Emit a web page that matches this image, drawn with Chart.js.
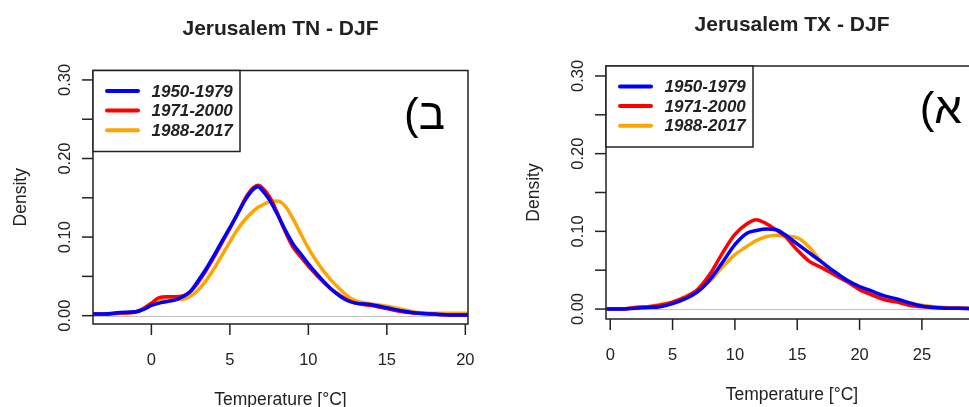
<!DOCTYPE html>
<html>
<head>
<meta charset="utf-8">
<script src="https://cdn.jsdelivr.net/npm/chart.js@4.4.1/dist/chart.umd.min.js"></script>
<style>
  html, body { margin: 0; padding: 0; background: #fff; overflow: hidden; }
  body { width: 969px; height: 407px; position: relative; }
  canvas { position: absolute; top: 0; }
  #tn { left: 0; }
  #tx { left: 485px; }
</style>
</head>
<body>
<canvas id="tn" width="485" height="407"></canvas>
<canvas id="tx" width="515" height="407"></canvas>
<script>
const periods = ['1950-1979', '1971-2000', '1988-2017'];
const periodColors = ['#0000ff', '#ff0000', '#ffa500'];

// Jerusalem TN (DJF) - density curves
const tnTemps = [-3.8, -3, -2, -1, -0.5, 0, 0.5, 1, 1.5, 2, 2.5, 3, 3.5, 4, 4.5, 5, 5.5, 6, 6.5, 6.8, 7, 7.5, 8, 8.5, 9, 9.5, 10, 10.5, 11, 11.5, 12, 12.5, 13, 14, 15, 16, 17, 18, 19, 20.2];
const tn1950 = [0.002, 0.002, 0.004, 0.005, 0.008, 0.013, 0.016, 0.018, 0.020, 0.024, 0.031, 0.045, 0.060, 0.077, 0.095, 0.112, 0.130, 0.148, 0.161, 0.164, 0.161, 0.148, 0.130, 0.110, 0.092, 0.079, 0.066, 0.054, 0.043, 0.033, 0.025, 0.019, 0.016, 0.014, 0.010, 0.006, 0.003, 0.002, 0.001, 0.001];
const tn1971 = [0.002, 0.002, 0.003, 0.005, 0.009, 0.016, 0.023, 0.024, 0.024, 0.025, 0.031, 0.043, 0.058, 0.075, 0.093, 0.111, 0.130, 0.150, 0.163, 0.166, 0.164, 0.152, 0.132, 0.108, 0.088, 0.075, 0.063, 0.052, 0.042, 0.033, 0.026, 0.020, 0.016, 0.013, 0.009, 0.005, 0.003, 0.002, 0.001, 0.001];
const tn1988 = [0.002, 0.002, 0.003, 0.004, 0.009, 0.015, 0.019, 0.020, 0.021, 0.021, 0.025, 0.033, 0.045, 0.060, 0.077, 0.094, 0.110, 0.123, 0.133, 0.138, 0.140, 0.145, 0.146, 0.140, 0.124, 0.105, 0.086, 0.070, 0.056, 0.044, 0.034, 0.025, 0.019, 0.015, 0.012, 0.008, 0.004, 0.003, 0.003, 0.003];

// Jerusalem TX (DJF)
const txTemps = [-0.3, 1, 2, 3, 4, 5, 6, 7, 8, 9, 10, 11, 11.7, 12.5, 13.3, 14, 15, 16, 17, 18, 19, 20, 21, 22, 23, 24, 25, 26, 27, 28, 29.5];
const tx1950 = [0, 0, 0.001, 0.002, 0.003, 0.007, 0.013, 0.022, 0.038, 0.060, 0.083, 0.098, 0.101, 0.103, 0.102, 0.096, 0.084, 0.072, 0.060, 0.048, 0.037, 0.029, 0.023, 0.017, 0.013, 0.008, 0.004, 0.002, 0.001, 0.001, 0];
const tx1971 = [0, 0, 0.002, 0.003, 0.005, 0.009, 0.015, 0.025, 0.045, 0.072, 0.096, 0.110, 0.115, 0.110, 0.102, 0.094, 0.076, 0.061, 0.053, 0.044, 0.035, 0.025, 0.018, 0.012, 0.009, 0.005, 0.003, 0.002, 0.001, 0.001, 0];
const tx1988 = [0, 0, 0.002, 0.003, 0.006, 0.009, 0.016, 0.024, 0.036, 0.054, 0.070, 0.081, 0.088, 0.093, 0.095, 0.094, 0.092, 0.079, 0.060, 0.045, 0.036, 0.026, 0.019, 0.014, 0.011, 0.008, 0.005, 0.003, 0.002, 0.001, 0.001];

const tnXTicks = [0, 5, 10, 15, 20];
const txXTicks = [0, 5, 10, 15, 20, 25];
const yTicks = [0, 0.05, 0.10, 0.15, 0.20, 0.25, 0.30];
const yTickLabels = ['0.00', '', '0.10', '', '0.20', '', '0.30'];

const FONT = '"Liberation Sans", Arial, sans-serif';
const INK = '#222';

// R-style frame, axes, legend and panel tag
const rFrame = {
  id: 'rFrame',
  beforeDatasetsDraw(chart) {
    const { ctx, chartArea: a, scales: { y } } = chart;
    const y0 = Math.round(y.getPixelForValue(0)) + 0.5;
    ctx.save();
    ctx.strokeStyle = '#c0c0c0';
    ctx.lineWidth = 1;
    ctx.beginPath();
    ctx.moveTo(a.left, y0);
    ctx.lineTo(a.right, y0);
    ctx.stroke();
    ctx.restore();
  },
  afterDraw(chart, args, o) {
    const { ctx, chartArea: a, scales: { x, y } } = chart;
    ctx.save();
    ctx.strokeStyle = INK;
    ctx.fillStyle = INK;
    ctx.lineWidth = 1.5;
    ctx.strokeRect(a.left, a.top, a.right - a.left, a.bottom - a.top);

    // title
    ctx.font = 'bold 21px ' + FONT;
    ctx.textAlign = 'center';
    ctx.textBaseline = 'alphabetic';
    ctx.fillText(o.title, (a.left + a.right) / 2, a.top - 35.5);

    // x axis
    ctx.font = '16.5px ' + FONT;
    o.xTicks.forEach(v => {
      const px = x.getPixelForValue(v);
      ctx.beginPath();
      ctx.moveTo(px, a.bottom);
      ctx.lineTo(px, a.bottom + 11);
      ctx.stroke();
      ctx.fillText(String(v), px, a.bottom + 41);
    });
    ctx.font = '17.5px ' + FONT;
    ctx.fillText('Temperature [°C]', (a.left + a.right) / 2, a.bottom + 81);

    // y axis
    ctx.font = '16.5px ' + FONT;
    yTicks.forEach((v, i) => {
      const py = y.getPixelForValue(v);
      ctx.beginPath();
      ctx.moveTo(a.left - 11, py);
      ctx.lineTo(a.left, py);
      ctx.stroke();
      if (yTickLabels[i]) {
        ctx.save();
        ctx.translate(a.left - 23, py);
        ctx.rotate(-Math.PI / 2);
        ctx.fillText(yTickLabels[i], 0, 0);
        ctx.restore();
      }
    });
    ctx.save();
    ctx.font = '17.5px ' + FONT;
    ctx.translate(a.left - 67, (a.top + a.bottom) / 2);
    ctx.rotate(-Math.PI / 2);
    ctx.fillText('Density', 0, 0);
    ctx.restore();

    // legend
    const lx = a.left, ly = a.top;
    ctx.fillStyle = '#fff';
    ctx.fillRect(lx, ly, 147, 81);
    ctx.lineWidth = 1.5;
    ctx.strokeRect(lx, ly, 147, 81);
    ctx.font = 'italic bold 17px ' + FONT;
    ctx.textAlign = 'left';
    ctx.textBaseline = 'middle';
    chart.data.datasets.forEach((ds, i) => {
      const ry = ly + 20.5 + i * 19.6;
      ctx.strokeStyle = ds.borderColor;
      ctx.lineWidth = 4;
      ctx.lineCap = 'round';
      ctx.beginPath();
      ctx.moveTo(lx + 14, ry);
      ctx.lineTo(lx + 45, ry);
      ctx.stroke();
      ctx.fillStyle = INK;
      ctx.fillText(ds.label, lx + 58.5, ry + 1);
    });

    // panel tag (Hebrew)
    ctx.font = '44px ' + FONT;
    ctx.fillStyle = '#000';
    ctx.textBaseline = 'alphabetic';
    ctx.direction = 'rtl';
    ctx.textAlign = 'right';
    ctx.fillText(o.tag, o.tagX, o.tagY);
    ctx.restore();
  }
};

function densityChart(id, temps, series, xMin, xMax, yMin, yMax, pad, frame) {
  return new Chart(document.getElementById(id).getContext('2d'), {
    type: 'line',
    data: {
      datasets: series.map((vals, i) => ({
        label: periods[i],
        data: temps.map((t, k) => ({ x: t, y: vals[k] })),
        borderColor: periodColors[i],
        borderWidth: 3.5,
        pointRadius: 0,
        fill: false,
        cubicInterpolationMode: 'monotone'
      }))
    },
    options: {
      responsive: false,
      animation: false,
      events: [],
      layout: { padding: pad },
      scales: {
        x: { type: 'linear', min: xMin, max: xMax, display: false },
        y: { type: 'linear', min: yMin, max: yMax, display: false }
      },
      plugins: {
        legend: { display: false },
        tooltip: { enabled: false },
        rFrame: frame
      }
    },
    plugins: [rFrame]
  });
}

densityChart('tn', tnTemps, [tn1950, tn1971, tn1988], -3.72, 20.17, -0.0106, 0.312,
  { left: 93, top: 70.5, right: 17, bottom: 83 },
  { title: 'Jerusalem TN - DJF', xTicks: tnXTicks, tag: 'ב)', tagX: 445, tagY: 129 });

densityChart('tx', txTemps, [tx1950, tx1971, tx1988], -0.34, 29.5, -0.0128, 0.3128,
  { left: 121, top: 66, right: 22, bottom: 88 },
  { title: 'Jerusalem TX - DJF', xTicks: txXTicks, tag: 'א)', tagX: 477, tagY: 123 });
</script>
</body>
</html>
